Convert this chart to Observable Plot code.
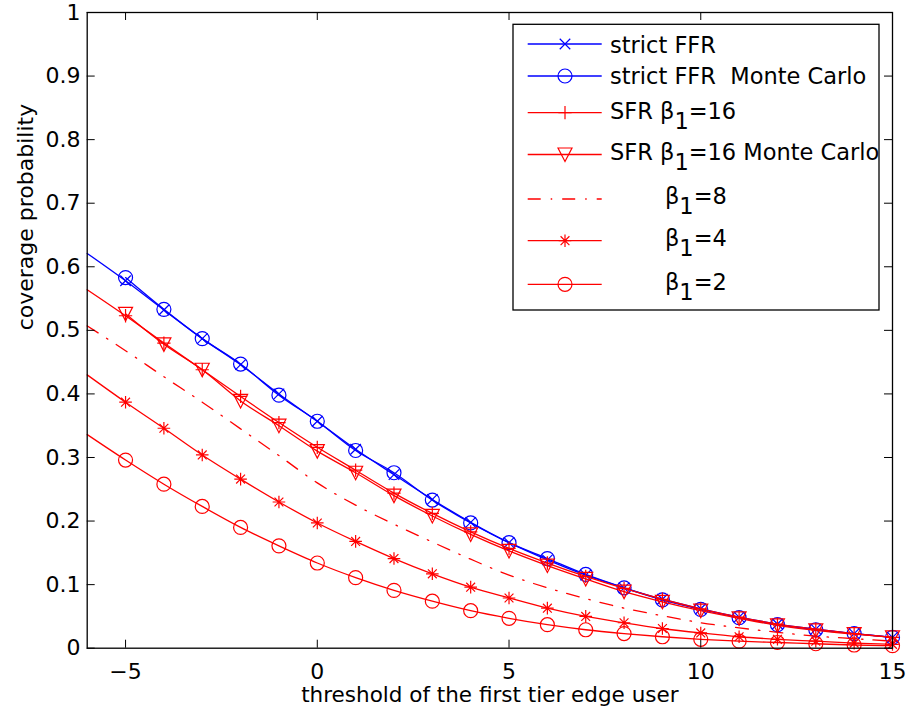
<!DOCTYPE html>
<html>
<head>
<meta charset="utf-8">
<script src="https://cdn.jsdelivr.net/npm/d3@7"></script>
<script src="https://cdn.jsdelivr.net/npm/@observablehq/plot@0.6"></script>
<style>
  html, body { margin: 0; padding: 0; background: white; }
</style>
</head>
<body>
<script>
// ---------------- data ----------------
const xLine = [-6, -5, -4, -3, -2, -1, 0, 1, 2, 3, 4, 5, 6, 7, 8, 9, 10, 11, 12, 13, 14, 15];
const xMarker = [-5, -4, -3, -2, -1, 0, 1, 2, 3, 4, 5, 6, 7, 8, 9, 10, 11, 12, 13, 14, 15];

const ffrTheory = [0.621, 0.578, 0.532, 0.487, 0.446, 0.400, 0.357, 0.313, 0.273, 0.234, 0.198, 0.166, 0.139, 0.115, 0.095, 0.077, 0.062, 0.049, 0.038, 0.030, 0.023, 0.017];
const ffrMonteCarlo = [0.583, 0.533, 0.487, 0.447, 0.398, 0.357, 0.311, 0.276, 0.233, 0.197, 0.166, 0.141, 0.116, 0.095, 0.076, 0.061, 0.048, 0.037, 0.029, 0.023, 0.017];
const sfr16Theory = [0.564, 0.523, 0.480, 0.438, 0.396, 0.355, 0.316, 0.280, 0.244, 0.212, 0.183, 0.157, 0.134, 0.113, 0.094, 0.077, 0.062, 0.049, 0.038, 0.030, 0.023, 0.017];
const sfr16MonteCarlo = [0.526, 0.478, 0.438, 0.389, 0.350, 0.310, 0.276, 0.240, 0.208, 0.179, 0.153, 0.130, 0.109, 0.089, 0.073, 0.059, 0.047, 0.036, 0.028, 0.022, 0.017];
const sfr8 = [0.507, 0.468, 0.427, 0.387, 0.345, 0.303, 0.260, 0.225, 0.195, 0.167, 0.140, 0.115, 0.095, 0.078, 0.063, 0.051, 0.040, 0.032, 0.025, 0.019, 0.015, 0.011];
const sfr4 = [0.430, 0.387, 0.346, 0.304, 0.266, 0.230, 0.197, 0.168, 0.141, 0.117, 0.096, 0.079, 0.063, 0.050, 0.040, 0.031, 0.024, 0.018, 0.014, 0.011, 0.008, 0.006];
const sfr2 = [0.336, 0.296, 0.258, 0.223, 0.190, 0.161, 0.134, 0.111, 0.091, 0.074, 0.059, 0.047, 0.037, 0.029, 0.023, 0.018, 0.014, 0.011, 0.009, 0.007, 0.005, 0.004];

const xTicks = [-5, 0, 5, 10, 15];
const xTickLabels = ["\u22125", "0", "5", "10", "15"];
const yTicks = [0, 0.1, 0.2, 0.3, 0.4, 0.5, 0.6, 0.7, 0.8, 0.9, 1];
const yTickLabels = ["0", "0.1", "0.2", "0.3", "0.4", "0.5", "0.6", "0.7", "0.8", "0.9", "1"];

const xLabel = "threshold of the first tier edge user";
const yLabel = "coverage probability";

// legend labels: [before subscript, subscript, after subscript]
const legendLabels = [
  ["strict FFR", "", ""],
  ["strict FFR  Monte Carlo", "", ""],
  ["SFR \u03B2", "1", "=16"],
  ["SFR \u03B2", "1", "=16 Monte Carlo"],
  ["\u03B2", "1", "=8"],
  ["\u03B2", "1", "=4"],
  ["\u03B2", "1", "=2"]
];

// ---------------- symbols ----------------
const rad = (size) => Math.sqrt(size / Math.PI);
const symTimes = {draw(c, s) { const r = rad(s) * 0.75; c.moveTo(-r, -r); c.lineTo(r, r); c.moveTo(r, -r); c.lineTo(-r, r); }};
const symPlus = {draw(c, s) { const r = rad(s) * 0.95; c.moveTo(-r, 0); c.lineTo(r, 0); c.moveTo(0, -r); c.lineTo(0, r); }};
const symAsterisk = {draw(c, s) { const r = rad(s) * 0.9, q = r * 0.7; c.moveTo(-r, 0); c.lineTo(r, 0); c.moveTo(0, -r); c.lineTo(0, r); c.moveTo(-q, -q); c.lineTo(q, q); c.moveTo(q, -q); c.lineTo(-q, q); }};
const symTriDown = {draw(c, s) { const r = rad(s); c.moveTo(-r, -0.93 * r); c.lineTo(r, -0.93 * r); c.lineTo(0, r); c.closePath(); }};
const symCircle = {draw(c, s) { const r = rad(s); c.moveTo(r, 0); c.arc(0, 0, r, 0, 2 * Math.PI); }};

const BLUE = "#0000ff", RED = "#ff0000";
const DASHDOT = "13,10,1.5,10";

const series = [
  {xs: xLine, ys: ffrTheory, color: BLUE, symbol: symTimes, dash: null, markerFrom: 1},
  {xs: xMarker, ys: ffrMonteCarlo, color: BLUE, symbol: symCircle, dash: null, markerFrom: 0},
  {xs: xLine, ys: sfr16Theory, color: RED, symbol: symPlus, dash: null, markerFrom: 1},
  {xs: xMarker, ys: sfr16MonteCarlo, color: RED, symbol: symTriDown, dash: null, markerFrom: 0},
  {xs: xLine, ys: sfr8, color: RED, symbol: null, dash: DASHDOT, markerFrom: 1},
  {xs: xLine, ys: sfr4, color: RED, symbol: symAsterisk, dash: null, markerFrom: 1},
  {xs: xLine, ys: sfr2, color: RED, symbol: symCircle, dash: null, markerFrom: 1}
];

// ---------------- layout ----------------
const WIDTH = 909, HEIGHT = 717;
const ML = 86.7, MR = 17, MT = 12, MB = 69.3;
const W = WIDTH - ML - MR, H = HEIGHT - MT - MB;
const TICK = 8;
const FONT = "DejaVu Sans";
const LW = 1.3;

const marks = [];
series.forEach((s) => {
  const rows = s.xs.map((x, i) => ({x, y: s.ys[i]}));
  marks.push(Plot.line(rows, {x: "x", y: "y", stroke: s.color, strokeWidth: LW, strokeDasharray: s.dash ?? undefined, curve: "monotone-x"}));
  if (s.symbol) {
    marks.push(Plot.dot(rows.slice(s.markerFrom), {x: "x", y: "y", symbol: s.symbol, r: 7, fill: "none", stroke: s.color, strokeWidth: 1.2}));
  }
});

const xFmt = new Map(xTicks.map((t, i) => [t, xTickLabels[i]]));
const yFmt = new Map(yTicks.map((t, i) => [t, yTickLabels[i]]));

const chart = Plot.plot({
  width: WIDTH, height: HEIGHT,
  marginLeft: ML, marginRight: MR, marginTop: MT, marginBottom: MB,
  style: {fontFamily: FONT, fontSize: "22px", color: "black", background: "white", overflow: "visible"},
  x: {domain: [-6, 15], label: null},
  y: {domain: [0, 1], label: null},
  marks: [
    ...marks,
    Plot.ruleX(xTicks, {insetBottom: H - TICK, stroke: "black", strokeWidth: 1}),
    Plot.ruleX(xTicks, {insetTop: H - TICK, stroke: "black", strokeWidth: 1}),
    Plot.ruleY(yTicks, {insetRight: W - TICK, stroke: "black", strokeWidth: 1}),
    Plot.ruleY(yTicks, {insetLeft: W - TICK, stroke: "black", strokeWidth: 1}),
    Plot.frame({stroke: "black", strokeWidth: LW}),
    Plot.axisX(xTicks, {tickSize: 0, tickPadding: 15, tickFormat: (d) => xFmt.get(d), fontSize: 22, label: null}),
    Plot.axisY(yTicks, {tickSize: 0, tickPadding: 6.7, tickFormat: (d) => yFmt.get(d), fontSize: 22, label: null}),
    Plot.text([xLabel], {text: (d) => d, frameAnchor: "bottom", dy: 53.7, fontSize: 21.5, fill: "black"}),
    Plot.text([yLabel], {text: (d) => d, frameAnchor: "left", rotate: -90, dx: 25 - ML, fontSize: 22, fill: "black"})
  ]
});
document.body.appendChild(chart);

// ---------------- legend (inside the axes, top right) ----------------
const svg = d3.select(chart);
const lg = svg.append("g").attr("font-family", FONT).attr("font-size", 22.5).attr("text-anchor", "start");
lg.append("rect").attr("x", 513).attr("y", 24.3).attr("width", 366).attr("height", 285.7)
  .attr("fill", "white").attr("stroke", "black").attr("stroke-width", LW);
const rowLineY = [44, 76, 112.7, 154.5, 199, 240.7, 284.3];
const rowBase = [53, 84, 118.5, 159.5, 203.5, 245.5, 289.5];
const textX = [610, 610, 610, 610, 665, 665, 665];
series.forEach((s, i) => {
  const y = rowLineY[i];
  lg.append("line").attr("x1", 527.7).attr("x2", 601.7).attr("y1", y).attr("y2", y)
    .attr("stroke", s.color).attr("stroke-width", LW).attr("stroke-dasharray", s.dash);
  if (s.symbol) {
    const p = d3.path();
    s.symbol.draw(p, Math.PI * 49);
    lg.append("path").attr("d", p.toString()).attr("transform", `translate(565,${y})`)
      .attr("fill", "none").attr("stroke", s.color).attr("stroke-width", 1.2);
  }
  const [a, sub, b] = legendLabels[i];
  const t = lg.append("text").attr("x", textX[i]).attr("y", rowBase[i]).attr("fill", "black").attr("text-anchor", "start");
  t.append("tspan").text(a);
  if (sub) {
    t.append("tspan").attr("dy", 10).text(sub);
    t.append("tspan").attr("dy", -10).text(b);
  }
});
</script>
</body>
</html>
